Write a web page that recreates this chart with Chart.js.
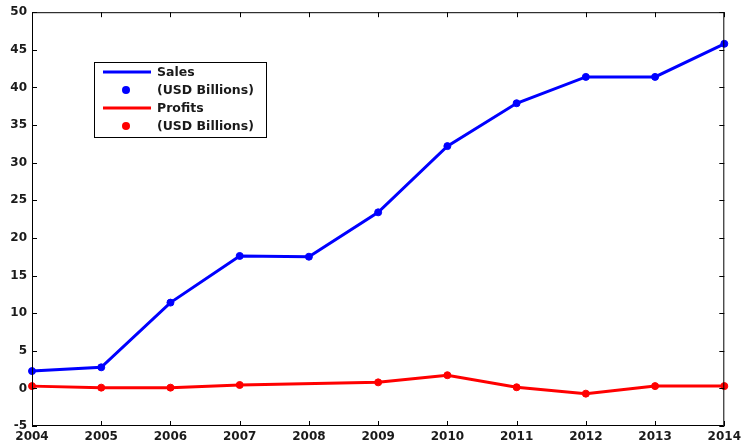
<!DOCTYPE html>
<html>
<head>
<meta charset="utf-8">
<script src="https://cdn.jsdelivr.net/npm/chart.js@4/dist/chart.umd.min.js"></script>
<style>
  html, body { margin: 0; padding: 0; background: #fff; }
  #wrap { position: relative; width: 745px; height: 446px; }
</style>
</head>
<body>
<div id="wrap"><canvas id="salesChart" width="745" height="446"></canvas></div>
<script>
// data
const years = [2004, 2005, 2006, 2007, 2008, 2009, 2010, 2011, 2012, 2013, 2014];
const sales = [2.3, 2.8, 11.4, 17.6, 17.5, 23.4, 32.2, 37.9, 41.4, 41.4, 45.8];
const profits = [0.3, 0.1, 0.1, 0.45, null, 0.8, 1.75, 0.15, -0.7, 0.3, 0.3];
const yTicks = [-5, 0, 5, 10, 15, 20, 25, 30, 35, 40, 45, 50];
const legendLabels = ["Sales", "(USD Billions)", "Profits", "(USD Billions)"];

const FONT = "'DejaVu Sans', sans-serif";

const toPoints = (vals) => years.map((yr, i) => ({ x: yr, y: vals[i] }));

// inward ticks on all four sides + top/right frame (MATLAB look)
const frameTicks = {
    id: "frameTicks",
    afterDraw(chart) {
        const { ctx, chartArea: a, scales } = chart;
        ctx.save();
        ctx.strokeStyle = "#000";
        ctx.lineWidth = 1;
        ctx.beginPath();
        ctx.rect(a.left + 0.5, a.top + 0.5, a.right - a.left - 1, a.bottom - a.top - 1);
        const len = 5;
        years.forEach(yr => {
            const px = Math.round(scales.x.getPixelForValue(yr)) + 0.5;
            ctx.moveTo(px, a.bottom); ctx.lineTo(px, a.bottom - len);
            ctx.moveTo(px, a.top); ctx.lineTo(px, a.top + len);
        });
        yTicks.forEach(v => {
            const py = Math.round(scales.y.getPixelForValue(v)) + 0.5;
            ctx.moveTo(a.left, py); ctx.lineTo(a.left + len, py);
            ctx.moveTo(a.right, py); ctx.lineTo(a.right - len, py);
        });
        ctx.stroke();
        ctx.restore();
    }
};

// legend box inside the plot, upper left
const boxLegend = {
    id: "boxLegend",
    afterDraw(chart) {
        const { ctx } = chart;
        const ds = chart.data.datasets;
        const bx = 94, by = 62, bw = 172, bh = 75;
        ctx.save();
        ctx.fillStyle = "#fff";
        ctx.fillRect(bx, by, bw, bh);
        ctx.strokeStyle = "#000";
        ctx.lineWidth = 1;
        ctx.strokeRect(bx + 0.5, by + 0.5, bw, bh);

        ctx.font = "bold 12.5px " + FONT;
        ctx.fillStyle = "#1a1a1a";
        ctx.textBaseline = "middle";
        const rows = [72, 90, 108, 126];
        rows.forEach((ry, i) => {
            const d = ds[Math.floor(i / 2)];
            if (i % 2 === 0) {
                ctx.strokeStyle = d.borderColor;
                ctx.lineWidth = 3;
                ctx.beginPath();
                ctx.moveTo(103, ry); ctx.lineTo(151, ry);
                ctx.stroke();
            } else {
                ctx.fillStyle = d.borderColor;
                ctx.beginPath();
                ctx.arc(126, ry, 4, 0, Math.PI * 2);
                ctx.fill();
                ctx.fillStyle = "#1a1a1a";
            }
            ctx.fillText(legendLabels[i], 157, ry + 1);
        });
        ctx.restore();
    }
};

const ctx = document.getElementById("salesChart").getContext("2d");
new Chart(ctx, {
    type: "line",
    data: {
        datasets: [
            {
                label: "Sales",
                data: toPoints(sales),
                borderColor: "#0000ff",
                backgroundColor: "#0000ff",
                borderWidth: 3,
                pointRadius: 3.5,
                pointBorderWidth: 1,
                pointHoverRadius: 3.5,
                tension: 0,
            },
            {
                label: "Profits",
                data: toPoints(profits),
                borderColor: "#ff0000",
                backgroundColor: "#ff0000",
                borderWidth: 3,
                pointRadius: 3.5,
                pointBorderWidth: 1,
                pointHoverRadius: 3.5,
                spanGaps: true,
                tension: 0,
            },
        ],
    },
    options: {
        responsive: false,
        animation: false,
        clip: false,
        layout: { padding: { top: 11, right: 18, left: 0, bottom: 0 } },
        plugins: {
            legend: { display: false },
            tooltip: { enabled: false },
        },
        scales: {
            x: {
                type: "linear",
                min: 2004,
                max: 2014,
                grid: { display: false, drawTicks: false },
                border: { display: false },
                afterFit: (s) => { s.height = 20; },
                afterBuildTicks: (s) => { s.ticks = years.map(v => ({ value: v })); },
                ticks: {
                    padding: 4,
                    maxRotation: 0,
                    autoSkip: false,
                    color: "#1a1a1a",
                    font: { family: FONT, size: 12, weight: "bold" },
                    callback: (v) => String(v),
                },
            },
            y: {
                min: -5,
                max: 50,
                grid: { display: false, drawTicks: false },
                border: { display: false },
                afterFit: (s) => { s.width = 32; },
                afterBuildTicks: (s) => { s.ticks = yTicks.map(v => ({ value: v })); },
                ticks: {
                    padding: 5,
                    color: "#1a1a1a",
                    font: { family: FONT, size: 12, weight: "bold" },
                    callback: (v) => String(v),
                },
            },
        },
    },
    plugins: [frameTicks, boxLegend],
});
</script>
</body>
</html>
